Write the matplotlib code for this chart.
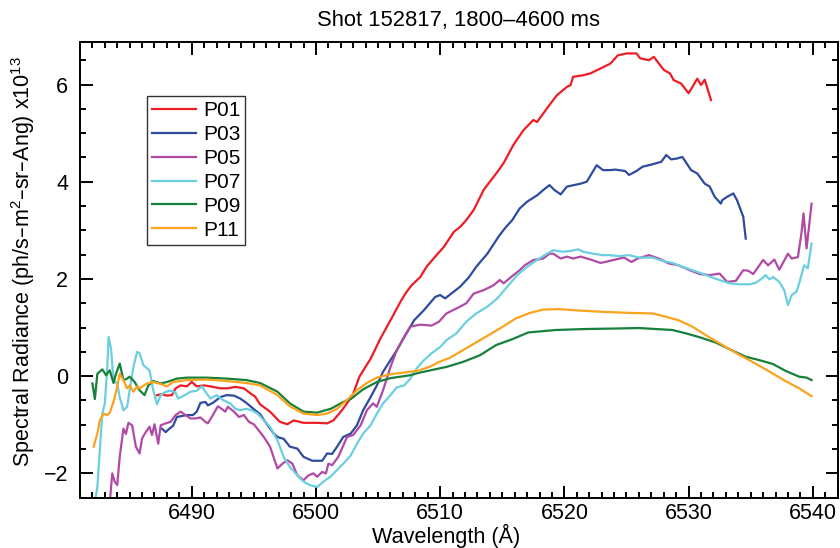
import numpy as np
import matplotlib
matplotlib.use("Agg")
import matplotlib.pyplot as plt
from matplotlib.ticker import MultipleLocator

plt.rcParams['font.family'] = ['Liberation Sans', 'DejaVu Sans']
plt.rcParams['mathtext.default'] = 'regular'

# ---------------------------- data ----------------------------
p01_wl = [6487.2, 6487.6, 6488.0, 6488.4, 6488.7, 6489.1, 6489.6, 6490.0, 6490.4, 6491.0,
          6491.5, 6492.3, 6492.9, 6493.5, 6494.2, 6494.7, 6495.1, 6495.5, 6496.3, 6497.1,
          6497.7, 6498.2, 6499.0, 6500.1, 6500.9, 6501.4, 6502.0, 6502.5, 6503.0, 6503.5,
          6504.4, 6505.2, 6506.0, 6506.8, 6507.2, 6507.7, 6508.4, 6508.9, 6509.6, 6510.3,
          6511.1, 6511.6, 6512.1, 6512.7, 6513.5, 6513.7, 6514.6, 6515.1, 6515.9, 6516.7,
          6517.5, 6517.8, 6518.8, 6519.4, 6520.2, 6520.5, 6520.7, 6521.5, 6522.1, 6522.9,
          6523.7, 6524.3, 6525.0, 6525.8, 6526.1, 6526.8, 6527.2, 6528.0, 6528.5, 6528.8,
          6529.4, 6530.0, 6530.7, 6531.0, 6531.3, 6531.8]
p01_val = [-0.39, -0.37, -0.40, -0.39, -0.25, -0.19, -0.21, -0.12, -0.21, -0.19,
           -0.21, -0.25, -0.25, -0.22, -0.25, -0.35, -0.42, -0.58, -0.73, -0.94,
           -0.99, -0.91, -0.96, -0.96, -0.97, -0.91, -0.73, -0.56, -0.36, -0.01,
           0.36, 0.78, 1.15, 1.53, 1.70, 1.87, 2.04, 2.25, 2.46, 2.66,
           2.97, 3.07, 3.21, 3.42, 3.83, 3.90, 4.20, 4.38, 4.76, 5.06,
           5.27, 5.23, 5.58, 5.78, 5.95, 5.99, 6.16, 6.19, 6.23, 6.33,
           6.43, 6.60, 6.64, 6.64, 6.54, 6.50, 6.57, 6.30, 6.23, 6.09,
           6.02, 5.82, 6.12, 5.99, 6.10, 5.68]

p03_wl = [6487.6, 6487.9, 6488.2, 6488.5, 6488.8, 6489.2, 6489.6, 6490.1, 6490.4, 6490.7,
          6491.1, 6491.3, 6491.7, 6492.3, 6492.8, 6493.4, 6493.9, 6494.4, 6495.0, 6495.5,
          6496.0, 6496.6, 6496.9, 6497.4, 6497.9, 6498.5, 6499.0, 6499.7, 6500.5, 6500.9,
          6501.3, 6501.7, 6502.2, 6502.8, 6503.3, 6503.8, 6504.4, 6504.9, 6505.4, 6506.0,
          6506.5, 6507.1, 6507.9, 6508.7, 6509.6, 6510.0, 6510.4, 6511.1, 6511.6, 6512.3,
          6512.9, 6513.8, 6514.7, 6515.2, 6515.8, 6516.4, 6517.0, 6517.8, 6518.3, 6518.8,
          6519.2, 6519.7, 6520.2, 6521.3, 6521.8, 6522.6, 6523.1, 6523.7, 6524.1, 6524.9,
          6525.2, 6525.8, 6526.3, 6527.1, 6527.8, 6528.2, 6528.6, 6529.1, 6529.5, 6530.2,
          6530.7, 6531.3, 6531.7, 6532.1, 6532.6, 6532.7, 6533.1, 6533.6, 6533.9, 6534.4,
          6534.6]
p03_val = [-1.08, -1.15, -1.08, -1.02, -0.84, -0.82, -0.80, -0.80, -0.73, -0.55,
           -0.53, -0.60, -0.55, -0.43, -0.39, -0.40, -0.46, -0.55, -0.68, -0.78,
           -0.97, -1.18, -1.25, -1.29, -1.45, -1.49, -1.66, -1.74, -1.74, -1.59,
           -1.60, -1.45, -1.25, -1.18, -1.01, -0.70, -0.43, -0.19, 0.09, 0.33,
           0.53, 0.80, 1.15, 1.36, 1.63, 1.67, 1.60, 1.74, 1.84, 2.03,
           2.25, 2.52, 2.87, 3.04, 3.21, 3.45, 3.59, 3.72, 3.83, 3.93,
           3.83, 3.74, 3.90, 3.96, 4.00, 4.34, 4.24, 4.24, 4.25, 4.22,
           4.14, 4.22, 4.31, 4.36, 4.41, 4.55, 4.46, 4.48, 4.51, 4.24,
           4.17, 3.96, 3.90, 3.69, 3.55, 3.62, 3.69, 3.76, 3.62, 3.28,
           2.83]

p05_wl = [6483.4, 6483.6, 6483.8, 6484.0, 6484.2, 6484.5, 6484.7, 6484.9, 6485.2, 6485.5,
          6485.8, 6486.0, 6486.3, 6486.6, 6486.8, 6487.0, 6487.3, 6487.5, 6487.9, 6488.3,
          6488.7, 6489.1, 6489.5, 6489.9, 6490.3, 6490.7, 6491.1, 6491.3, 6491.7, 6492.1,
          6492.4, 6492.7, 6492.9, 6493.4, 6493.8, 6494.2, 6494.6, 6495.0, 6495.4, 6495.8,
          6496.3, 6496.9, 6497.3, 6497.7, 6498.1, 6498.5, 6499.0, 6499.4, 6499.8, 6500.1,
          6500.5, 6500.8, 6501.0, 6501.3, 6501.8, 6502.5, 6503.0, 6503.6, 6504.1, 6504.6,
          6504.9, 6505.4, 6506.0, 6506.5, 6507.1, 6507.6, 6508.4, 6509.3, 6509.9, 6510.5,
          6511.6, 6512.1, 6512.7, 6513.5, 6514.3, 6514.8, 6515.1, 6515.9, 6516.4, 6516.8,
          6517.5, 6518.3, 6518.8, 6519.1, 6519.7, 6520.2, 6520.7, 6521.3, 6522.1, 6522.9,
          6523.3, 6524.1, 6524.8, 6525.4, 6525.9, 6526.8, 6527.6, 6528.4, 6529.2, 6530.1,
          6530.9, 6531.7, 6532.5, 6533.1, 6533.8, 6534.4, 6534.8, 6535.2, 6536.0, 6536.4,
          6536.9, 6537.3, 6538.0, 6538.3, 6538.8, 6539.1, 6539.25, 6539.5, 6539.9]
p05_val = [-2.60, -2.00, -2.17, -2.24, -1.66, -1.08, -1.19, -0.96, -1.01, -1.45,
           -1.59, -1.28, -1.15, -1.04, -1.21, -0.99, -1.39, -1.01, -0.97, -0.94,
           -0.80, -0.73, -0.80, -0.87, -0.87, -0.85, -0.94, -0.97, -0.80, -0.62,
           -0.67, -0.73, -0.63, -0.73, -0.84, -0.80, -0.94, -0.99, -1.12, -1.25,
           -1.45, -1.90, -1.80, -1.73, -1.80, -2.04, -2.14, -2.04, -2.00, -2.07,
           -1.97, -2.00, -1.80, -1.83, -1.66, -1.25, -1.21, -1.01, -0.70, -0.56,
           -0.63, -0.29, 0.19, 0.53, 0.81, 1.02, 1.06, 1.04, 1.12, 1.29,
           1.43, 1.50, 1.70, 1.77, 1.87, 1.98, 1.91, 2.08, 2.18, 2.28,
           2.39, 2.42, 2.52, 2.52, 2.42, 2.46, 2.42, 2.46, 2.40, 2.33,
           2.35, 2.40, 2.44, 2.35, 2.42, 2.49, 2.42, 2.32, 2.28, 2.18,
           2.10, 2.08, 2.11, 1.94, 1.96, 2.18, 2.17, 2.10, 2.39, 2.28,
           2.40, 2.19, 2.52, 2.42, 2.45, 2.97, 3.35, 2.63, 3.55]

p07_wl = [6482.2, 6482.4, 6482.6, 6482.8, 6483.0, 6483.2, 6483.3, 6483.5, 6483.7, 6484.0,
          6484.2, 6484.5, 6484.8, 6485.0, 6485.3, 6485.6, 6485.8, 6486.1, 6486.4, 6486.6,
          6486.9, 6487.2, 6487.5, 6487.9, 6488.3, 6488.7, 6488.9, 6489.3, 6489.9, 6490.4,
          6490.8, 6491.1, 6491.5, 6492.0, 6492.5, 6493.1, 6493.5, 6493.9, 6494.4, 6494.8,
          6495.3, 6495.8, 6496.3, 6496.9, 6497.4, 6497.9, 6498.5, 6499.0, 6499.5, 6500.1,
          6500.6, 6501.2, 6501.7, 6502.2, 6502.8, 6503.3, 6503.8, 6504.4, 6504.9, 6505.4,
          6506.0, 6506.5, 6507.1, 6507.6, 6508.1, 6508.7, 6509.3, 6510.0, 6510.5, 6511.3,
          6512.1, 6512.9, 6513.8, 6514.6, 6515.4, 6516.2, 6517.0, 6517.8, 6518.6, 6519.1,
          6519.9, 6520.6, 6521.1, 6521.5, 6522.3, 6523.1, 6523.6, 6524.4, 6525.2, 6526.0,
          6527.1, 6527.9, 6528.7, 6529.5, 6530.3, 6531.1, 6531.9, 6532.7, 6533.3, 6534.1,
          6534.9, 6535.4, 6535.9, 6536.2, 6536.5, 6536.8, 6537.3, 6537.7, 6538.0, 6538.3,
          6538.7, 6538.9, 6539.3, 6539.6, 6539.9]
p07_val = [-2.60, -2.28, -1.52, -0.77, -0.56, 0.19, 0.81, 0.57, -0.08, -0.15,
           -0.43, -0.70, -0.63, -0.29, 0.19, 0.50, 0.47, 0.23, 0.16, 0.12,
           -0.29, -0.58, -0.39, -0.32, -0.30, -0.34, -0.46, -0.41, -0.32, -0.30,
           -0.21, -0.32, -0.46, -0.39, -0.49, -0.56, -0.67, -0.70, -0.67, -0.70,
           -0.77, -0.91, -1.04, -1.32, -1.66, -1.87, -2.04, -2.17, -2.24, -2.28,
           -2.17, -2.06, -1.93, -1.80, -1.63, -1.39, -1.18, -1.01, -0.77, -0.56,
           -0.39, -0.23, -0.19, -0.05, 0.16, 0.33, 0.47, 0.60, 0.74, 0.88,
           1.12, 1.29, 1.43, 1.60, 1.84, 2.08, 2.25, 2.39, 2.52, 2.59,
           2.56, 2.58, 2.61, 2.56, 2.52, 2.49, 2.49, 2.47, 2.49, 2.44,
           2.44, 2.37, 2.33, 2.25, 2.18, 2.11, 2.03, 1.96, 1.91, 1.89,
           1.89, 1.92, 2.01, 2.08, 1.99, 2.04, 1.94, 1.77, 1.46, 1.67,
           1.74, 1.91, 2.28, 2.22, 2.73]

p09_wl = [6482.0, 6482.2, 6482.4, 6482.8, 6483.1, 6483.4, 6483.7, 6483.9, 6484.2, 6484.5,
          6484.8, 6485.0, 6485.4, 6485.8, 6486.2, 6486.5, 6486.9, 6487.5, 6488.0, 6488.8,
          6489.6, 6491.2, 6492.8, 6494.4, 6495.5, 6496.9, 6497.9, 6499.0, 6500.1, 6501.2,
          6502.2, 6502.8, 6503.8, 6504.9, 6506.0, 6507.6, 6508.3, 6509.2, 6510.5, 6511.8,
          6513.2, 6514.5, 6515.8, 6517.1, 6518.0, 6519.3, 6521.7, 6524.0, 6526.0, 6528.7,
          6529.8, 6530.9, 6532.2, 6533.5, 6534.6, 6535.7, 6536.8, 6537.8, 6538.9, 6539.5,
          6539.9]
p09_val = [-0.15, -0.47, 0.05, 0.14, 0.02, 0.12, -0.14, 0.05, 0.26, -0.08,
           -0.05, -0.01, -0.12, -0.29, -0.39, -0.19, -0.10, -0.15, -0.12, -0.05,
           -0.03, -0.03, -0.05, -0.08, -0.14, -0.32, -0.56, -0.73, -0.75, -0.67,
           -0.53, -0.47, -0.27, -0.12, -0.04, 0.02, 0.07, 0.12, 0.19, 0.29,
           0.43, 0.64, 0.76, 0.90, 0.92, 0.95, 0.97, 0.98, 0.99, 0.95,
           0.88, 0.80, 0.69, 0.53, 0.40, 0.33, 0.25, 0.11, -0.01, -0.03,
           -0.08]

p11_wl = [6482.1, 6482.4, 6482.6, 6482.9, 6483.2, 6483.4, 6483.7, 6484.0, 6484.2, 6484.5,
          6484.8, 6485.0, 6485.3, 6485.6, 6485.8, 6486.4, 6486.9, 6487.5, 6488.0, 6488.5,
          6489.6, 6491.2, 6492.8, 6494.4, 6495.5, 6496.9, 6497.9, 6499.0, 6500.1, 6500.9,
          6501.7, 6502.5, 6503.3, 6504.1, 6504.9, 6506.0, 6507.6, 6508.3, 6509.2, 6509.9,
          6510.8, 6511.6, 6513.2, 6514.8, 6516.1, 6517.2, 6518.3, 6519.6, 6521.2, 6523.4,
          6525.5, 6527.1, 6528.2, 6529.2, 6530.3, 6531.4, 6533.0, 6534.0, 6535.1, 6536.2,
          6537.0, 6537.8, 6538.9, 6539.9]
p11_val = [-1.45, -1.18, -0.91, -0.77, -0.80, -0.75, -0.53, -0.22, 0.05, -0.08,
           -0.25, -0.19, -0.32, -0.21, -0.25, -0.15, -0.12, -0.16, -0.21, -0.12,
           -0.08, -0.07, -0.10, -0.14, -0.19, -0.39, -0.62, -0.77, -0.80, -0.77,
           -0.67, -0.49, -0.29, -0.14, -0.03, 0.04, 0.09, 0.12, 0.20, 0.29,
           0.38, 0.50, 0.74, 0.98, 1.19, 1.30, 1.37, 1.38, 1.35, 1.32,
           1.30, 1.29, 1.22, 1.15, 1.02, 0.84, 0.60, 0.45, 0.30, 0.14,
           0.02, -0.10, -0.25, -0.41]

labels = ['P01', 'P03', 'P05', 'P07', 'P09', 'P11']
colors = ['#ee1d25', '#2f4b9e', '#b14aa5', '#6ccfe0', '#17803a', '#fba31c']
series = [(p01_wl, p01_val), (p03_wl, p03_val), (p05_wl, p05_val),
          (p07_wl, p07_val), (p09_wl, p09_val), (p11_wl, p11_val)]

# ---------------------------------- plotting -------------------------------------
fig = plt.figure(figsize=(8.4, 5.48), dpi=100)
ax = fig.add_axes([0.0952, 0.0918, 0.902, 0.832])

for (wl, val), lab, col in zip(series, labels, colors):
    ax.plot(wl, val, color=col, lw=1.6, label=lab)

ax.set_xlim(6481.0, 6542.0)
ax.set_ylim(-2.5, 6.88)
ax.xaxis.set_major_locator(MultipleLocator(10))
ax.xaxis.set_minor_locator(MultipleLocator(1))
ax.yaxis.set_major_locator(MultipleLocator(2))
ax.yaxis.set_minor_locator(MultipleLocator(0.5))
ax.tick_params(which='both', direction='in', top=True, right=True, width=1.4,
               labelsize=15.5)
ax.tick_params(which='major', length=9)
ax.tick_params(which='minor', length=4.3)
ax.tick_params(axis='x', pad=3.5)
ax.tick_params(axis='y', pad=8.5)
for sp in ax.spines.values():
    sp.set_linewidth(1.4)

ax.set_title('Shot 152817, 1800\u20134600 ms', fontsize=15.8, pad=11)
ax.set_xlabel('Wavelength (\u00c5)', fontsize=15.6)
ax.xaxis.set_label_coords(0.483, -0.057)
ax.set_ylabel('Spectral Radiance (ph/s\u2013m$^2$\u2013sr\u2013Ang) x10$^{13}$',
              fontsize=15.5)
ax.yaxis.set_label_coords(-0.057, 0.519)

leg = ax.legend(loc='upper left', bbox_to_anchor=(147 / 840, 1 - 96 / 548),
                bbox_transform=fig.transFigure, fontsize=15, frameon=True,
                fancybox=False, borderaxespad=0, handlelength=2.1,
                handletextpad=0.35, borderpad=0.24, labelspacing=0.237)
leg.get_frame().set_edgecolor('black')
leg.get_frame().set_linewidth(1.0)

fig.savefig('out.png', dpi=100)
